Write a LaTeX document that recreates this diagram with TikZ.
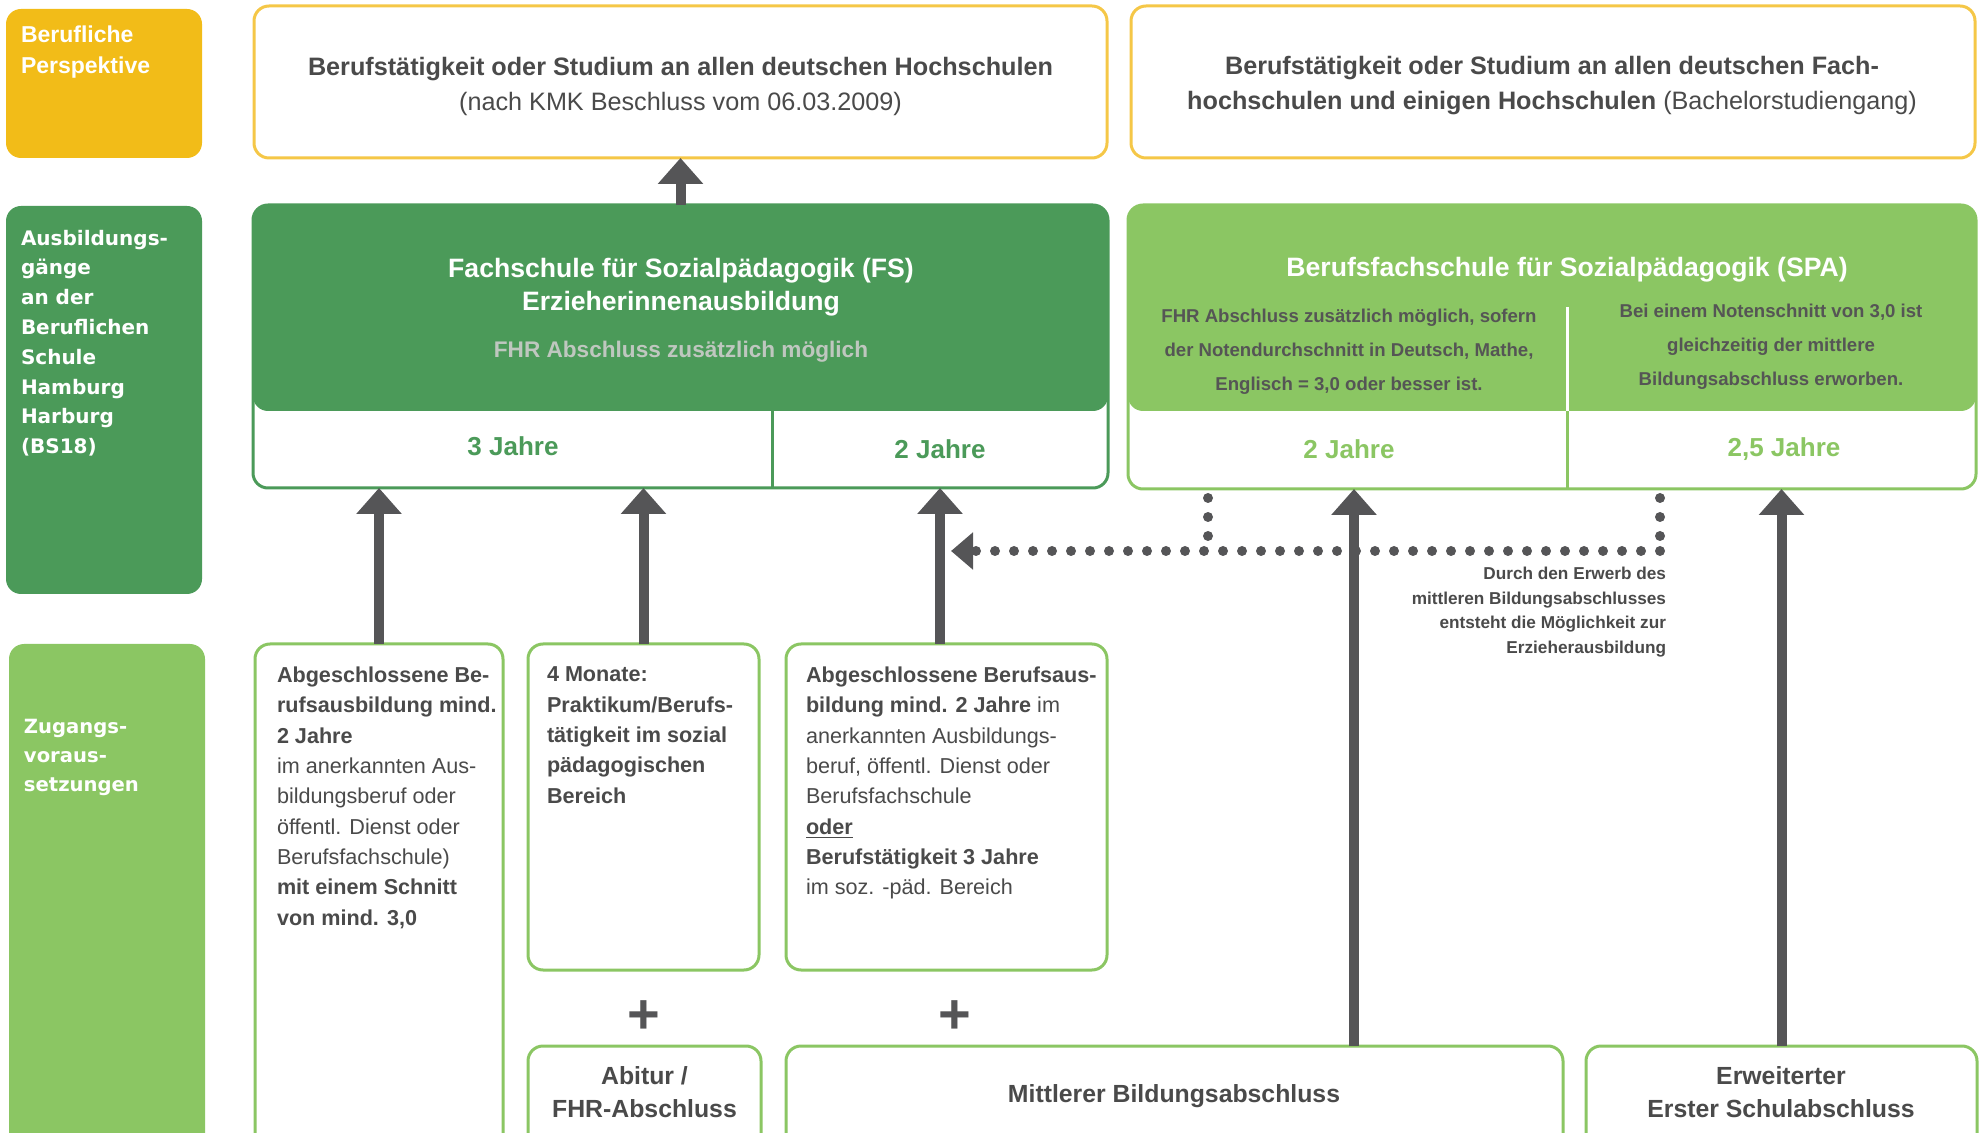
\documentclass[tikz,border=0pt]{standalone}
\usepackage{fontspec}
\setmainfont{Liberation Sans}
\newfontfamily\heavy{DejaVu Sans}
\usetikzlibrary{arrows.meta,fit,calc}
\definecolor{ylab}{HTML}{F2BC18}
\definecolor{yline}{HTML}{F5C747}
\definecolor{dgreen}{HTML}{4B9A59}
\definecolor{lgreen}{HTML}{8BC663}
\definecolor{agray}{HTML}{555557}
\definecolor{tgray}{HTML}{4A4A4A}
\definecolor{subgray}{HTML}{555555}
\definecolor{fhrgray}{HTML}{BFC7BF}
\begin{document}
\begin{tikzpicture}[x=0.5pt,y=-0.5pt,
  every node/.style={inner sep=0pt, outer sep=0pt},
  region/.style={rounded corners=7.5pt, inner sep=0pt, outer sep=0pt},
  labelbox/.style={region, fill=#1},
  outbox/.style={region, draw=#1, line width=1.5pt, fill=white},
  bigarrow/.style={agray, line width=5pt, -{Triangle[width=22pt,length=13pt]}},
  dotline/.style={agray, line width=5pt, line cap=round, dash pattern=on 0pt off 9.5pt},
  body/.style={text=tgray, align=left, anchor=north west, font=\fontsize{10.8}{15.15}\selectfont},
  toptext/.style={text=tgray, align=center, font=\fontsize{12.6}{17.5}\selectfont},
  headtext/.style={text=white, align=center, font=\fontsize{13.3}{16.5}\selectfont\bfseries},
  subtext/.style={text=subgray, align=center, font=\fontsize{9.3}{17}\selectfont\bfseries},
  jahre/.style={text=#1, font=\fontsize{13}{15}\selectfont\bfseries},
  basetext/.style={text=tgray, align=center, font=\fontsize{12.4}{16.5}\selectfont\bfseries},
  plus/.style={text=agray, font=\fontsize{28}{28}\selectfont\bfseries},
  sidelabel/.style={text=white, align=left, anchor=north west},
]
\useasboundingbox (0,0) rectangle (1981,1133);
\clip (0,0) rectangle (1981,1133);

% left labels
\node (ly) [labelbox=ylab, fit={(6,9) (202,158)}] {};
\node (lg) [labelbox=dgreen, fit={(6,206) (202,594)}] {};
\node (lz) [labelbox=lgreen, fit={(9,644) (205,1180)}] {};
\node (lytxt) [sidelabel, font=\fontsize{11.5}{15.5}\selectfont\bfseries] at (21,26) {Berufliche\\Perspektive};
\node (lgtxt) [sidelabel, font=\heavy\fontsize{10}{14.9}\selectfont\bfseries] at (21,230) {Ausbildungs-\\gänge\\an der\\Beruflichen\\Schule\\Hamburg\\Harburg\\(BS18)};
\node (lztxt) [sidelabel, font=\heavy\fontsize{9.8}{14.5}\selectfont\bfseries] at (24,719) {Zugangs-\\voraus-\\setzungen};

% top boxes
\node (t1) [outbox=yline, fit={(254,6) (1107,158)}] {};
\node (t2) [outbox=yline, fit={(1131,6) (1975,158)}] {};
\node (t1txt) [toptext] at (680.5,86) {\textbf{Berufstätigkeit oder Studium an allen deutschen Hochschulen}\\(nach KMK Beschluss vom 06.03.2009)};
\node (t2txt) [toptext] at (1552,86) {\textbf{Berufstätigkeit oder Studium an allen deutschen Fach-}\\\textbf{hochschulen und einigen Hochschulen} (Bachelorstudiengang)};

% FS
\node (fs) [outbox=dgreen, fit={(253,205) (1108,488)}] {};
\node (fsh) [labelbox=dgreen, fit={(253,205) (1108,411)}] {};
\coordinate (fsdiv) at (772,411);
\draw[dgreen, line width=1.5pt] (fsdiv) -- (fsdiv |- fs.south);
\node (fstxt) [headtext] at (681,287) {Fachschule für Sozialpädagogik (FS)\\Erzieherinnenausbildung};
\node (fsfhr) [text=fhrgray, font=\fontsize{11.3}{13}\selectfont\bfseries] at (681,352) {FHR Abschluss zusätzlich möglich};
\node (j3) [jahre=dgreen] at (513,446) {3 Jahre};
\node (j2) [jahre=dgreen] at (940,449) {2 Jahre};

% SPA
\node (spa) [outbox=lgreen, fit={(1128,205) (1976,489)}] {};
\node (spah) [labelbox=lgreen, fit={(1128,205) (1976,411)}] {};
\coordinate (spadivtop) at (1567,307);
\coordinate (spadivmid) at (1567,411);
\draw[white, line width=1.5pt] (spadivtop) -- (spadivmid);
\draw[lgreen, line width=1.5pt] (spadivmid) -- (spadivmid |- spa.south);
\node (spatxt) [headtext] at (1567,270) {Berufsfachschule für Sozialpädagogik (SPA)};
\node (spal) [subtext] at (1349,352) {FHR Abschluss zusätzlich möglich, sofern\\der Notendurchschnitt in Deutsch, Mathe,\\Englisch = 3,0 oder besser ist.};
\node (spar) [subtext] at (1771,347) {Bei einem Notenschnitt von 3,0 ist\\gleichzeitig der mittlere\\Bildungsabschluss erworben.};
\node (js2) [jahre=lgreen] at (1349,449) {2 Jahre};
\node (js25) [jahre=lgreen] at (1784,449) {2,5 Jahre};

% bottom boxes
\node (b1) [outbox=lgreen, fit={(255,644) (503,1180)}] {};
\node (b2) [outbox=lgreen, fit={(528,644) (759,970)}] {};
\node (b3) [outbox=lgreen, fit={(786,644) (1107,970)}] {};
\node (ab) [outbox=lgreen, fit={(528,1046) (761,1180)}] {};
\node (mb) [outbox=lgreen, fit={(786,1046) (1563,1180)}] {};
\node (eb) [outbox=lgreen, fit={(1586,1046) (1977,1180)}] {};

\node (b1txt) [body] at (277,667) {\textbf{Abgeschlossene Be-}\\\textbf{rufsausbildung mind.}\\\textbf{2 Jahre}\\im anerkannten Aus-\\bildungsberuf oder\\öffentl. Dienst oder\\Berufsfachschule)\\\textbf{mit einem Schnitt}\\\textbf{von mind. 3,0}};
\node (b2txt) [body] at (547,667) {\textbf{4 Monate:}\\\textbf{Praktikum/Berufs-}\\\textbf{tätigkeit im sozial}\\\textbf{pädagogischen}\\\textbf{Bereich}};
\node (b3txt) [body] at (806,667) {\textbf{Abgeschlossene Berufsaus-}\\\textbf{bildung mind. 2 Jahre} im\\anerkannten Ausbildungs-\\beruf, öffentl. Dienst oder\\Berufsfachschule\\\underline{\textbf{oder}}\\\textbf{Berufstätigkeit 3 Jahre}\\im soz. -päd. Bereich};

\node (p1) [plus] at (644,1017) {+};
\node (p2) [plus] at (955,1017) {+};

\node (abtxt) [basetext] at (644.5,1092) {Abitur /\\FHR-Abschluss};
\node (mbtxt) [basetext] at (1174,1096) {Mittlerer Bildungsabschluss};
\node (ebtxt) [basetext] at (1781,1092) {Erweiterter\\Erster Schulabschluss};

% annotation
\node (anno) [anchor=east, align=right, text=tgray, font=\fontsize{8.6}{12.2}\selectfont\bfseries] at (1666,612) {Durch den Erwerb des\\mittleren Bildungsabschlusses\\entsteht die Möglichkeit zur\\Erzieherausbildung};

% arrows
\coordinate (a3x) at (940,0);
\coordinate (a4x) at (1354,0);
\draw[bigarrow] (fs.north) -- (t1.south);
\draw[bigarrow] (b1.north) -- (b1.north |- fs.south);
\draw[bigarrow] (b2.north) -- (b2.north |- fs.south);
\draw[bigarrow] (b3.north -| a3x) -- (fs.south -| a3x);
\draw[bigarrow] (mb.north -| a4x) -- (spa.south -| a4x);
\draw[bigarrow] (eb.north) -- (eb.north |- spa.south);

% dotted connectors
\coordinate (d1) at (1208,498);
\coordinate (d2) at (1660,498);
\coordinate (dc1) at (1208,551);
\coordinate (dc2) at (1660,551);
\coordinate (dend) at (951,551);
\draw[dotline] (d1) -- (dc1);
\draw[dotline] (d2) -- (dc2);
\draw[dotline, -{Triangle[width=18pt,length=11pt]}] (dc2) -- (dend);
\end{tikzpicture}
\end{document}
